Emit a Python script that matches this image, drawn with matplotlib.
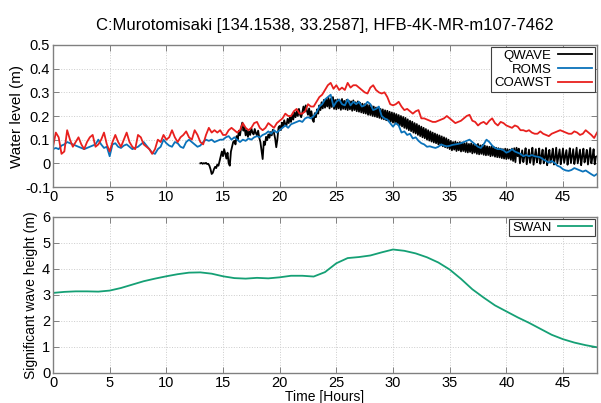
import numpy as np
import matplotlib
matplotlib.use('Agg')
import matplotlib.pyplot as plt
from matplotlib.ticker import FuncFormatter

plt.rcParams['font.family'] = ['Liberation Sans', 'DejaVu Sans']

title = 'C:Murotomisaki [134.1538, 33.2587], HFB-4K-MR-m107-7462'

# water level, 15 min steps, 0-48 h
roms = [
    0.060, 0.065, 0.060, 0.075,  0.080, 0.090, 0.085, 0.080,  0.075, 0.070, 0.065, 0.060,
    0.065, 0.070, 0.075, 0.080,  0.100, 0.080, 0.065, 0.070,  0.030, 0.080, 0.085, 0.070,
    0.065, 0.075, 0.080, 0.070,  0.060, 0.065, 0.070, 0.080,  0.090, 0.075, 0.060, 0.045,
    0.040, 0.060, 0.070, 0.100,  0.085, 0.075, 0.070, 0.090,  0.085, 0.070, 0.065, 0.090,
    0.100, 0.090, 0.080, 0.070,  0.075, 0.090, 0.100, 0.095,  0.100, 0.090, 0.095, 0.100,
    0.100, 0.110, 0.115, 0.100,  0.110, 0.100, 0.090, 0.100,  0.095, 0.105, 0.100, 0.110,
    0.115, 0.110, 0.120, 0.125,  0.135, 0.125, 0.140, 0.130,  0.140, 0.150, 0.160, 0.150,
    0.165, 0.170, 0.175, 0.180,  0.175, 0.190, 0.195, 0.190,  0.200, 0.215, 0.240, 0.250,
    0.270, 0.280, 0.290, 0.240,  0.260, 0.270, 0.250, 0.245,  0.270, 0.245, 0.260, 0.250,
    0.260, 0.240, 0.245, 0.260,  0.250, 0.225, 0.230, 0.240,  0.200, 0.190, 0.185, 0.170,
    0.155, 0.170, 0.160, 0.130,  0.135, 0.120, 0.125, 0.105,  0.110, 0.095, 0.085, 0.080,
    0.070, 0.072, 0.068, 0.065,  0.070, 0.080, 0.075, 0.072,  0.074, 0.078, 0.080, 0.082,
    0.085, 0.090, 0.095, 0.100,  0.090, 0.080, 0.070, 0.065,  0.080, 0.100, 0.090, 0.075,
    0.065, 0.060, 0.060, 0.055,  0.045, 0.050, 0.060, 0.050,  0.045, 0.040, 0.030, 0.035,
    0.030, 0.035, 0.030, 0.028,  0.025, 0.017, 0.010, 0.003,  0.010, 0.002, -0.010, -0.015,
    -0.025, -0.030, -0.032, -0.028,  -0.020, -0.025, -0.030, -0.035,  -0.030, -0.038, -0.046, -0.053,
    -0.045,
]

coawst = [
    0.070, 0.130, 0.110, 0.040,  0.050, 0.140, 0.100, 0.070,  0.090, 0.110, 0.080, 0.060,
    0.090, 0.110, 0.120, 0.070,  0.080, 0.100, 0.130, 0.080,  0.050, 0.090, 0.120, 0.090,
    0.070, 0.100, 0.130, 0.090,  0.070, 0.060, 0.120, 0.110,  0.080, 0.070, 0.060, 0.040,
    0.060, 0.100, 0.090, 0.120,  0.100, 0.110, 0.140, 0.110,  0.090, 0.110, 0.120, 0.135,
    0.110, 0.100, 0.140, 0.120,  0.090, 0.080, 0.120, 0.150,  0.130, 0.140, 0.130, 0.140,
    0.120, 0.120, 0.140, 0.150,  0.140, 0.130, 0.140, 0.170,  0.150, 0.140, 0.150, 0.170,
    0.175, 0.150, 0.140, 0.150,  0.170, 0.160, 0.150, 0.170,  0.180, 0.190, 0.210, 0.200,
    0.200, 0.220, 0.230, 0.210,  0.210, 0.220, 0.250, 0.240,  0.240, 0.260, 0.280, 0.290,
    0.310, 0.330, 0.340, 0.315,  0.330, 0.310, 0.320, 0.310,  0.340, 0.320, 0.330, 0.330,
    0.320, 0.310, 0.300, 0.295,  0.320, 0.330, 0.310, 0.300,  0.295, 0.300, 0.280, 0.250,
    0.245, 0.250, 0.260, 0.240,  0.225, 0.230, 0.220, 0.210,  0.220, 0.225, 0.190, 0.190,
    0.185, 0.180, 0.175, 0.175,  0.180, 0.185, 0.190, 0.200,  0.190, 0.180, 0.170, 0.175,
    0.180, 0.190, 0.200, 0.205,  0.180, 0.175, 0.160, 0.170,  0.175, 0.165, 0.180, 0.190,
    0.170, 0.160, 0.175, 0.170,  0.160, 0.155, 0.150, 0.160,  0.155, 0.140, 0.140, 0.135,
    0.140, 0.130, 0.125, 0.125,  0.135, 0.125, 0.120, 0.115,  0.125, 0.130, 0.135, 0.140,
    0.135, 0.130, 0.125, 0.125,  0.135, 0.130, 0.120, 0.125,  0.140, 0.130, 0.120, 0.107,
    0.130,
]

# QWAVE, 6 min steps from 13 h to 48 h (one row per hour)
qwave = [
    0.000, 0.002, -0.002, 0.001, -0.001, 0.002, -0.003, -0.002, -0.010, -0.025,
    -0.045, -0.040, -0.025, -0.015, -0.020, -0.005, -0.010, 0.010, 0.030, 0.050,
    0.030, 0.060, 0.040, 0.020, 0.045, 0.000, -0.010, 0.050, 0.070, 0.090,
    0.095, 0.080, 0.115, 0.100, 0.138, 0.118, 0.150, 0.172, 0.138, 0.152,
    0.118, 0.140, 0.112, 0.135, 0.120, 0.148, 0.130, 0.122, 0.145, 0.128,
    0.118, 0.138, 0.108, 0.090, 0.055, 0.018, 0.092, 0.078, 0.112, 0.098,
    0.122, 0.108, 0.132, 0.118, 0.142, 0.128, 0.105, 0.068, 0.102, 0.152,
    0.158, 0.140, 0.172, 0.155, 0.182, 0.165, 0.160, 0.188, 0.170, 0.195,
    0.175, 0.205, 0.185, 0.215, 0.195, 0.220, 0.200, 0.230, 0.205, 0.195,
    0.215, 0.240, 0.218, 0.245, 0.222, 0.205, 0.232, 0.198, 0.220, 0.185,
    0.175, 0.212, 0.195, 0.228, 0.210, 0.245, 0.225, 0.258, 0.232, 0.268,
    0.235, 0.270, 0.240, 0.278, 0.232, 0.272, 0.238, 0.280, 0.230, 0.268,
    0.228, 0.270, 0.232, 0.266, 0.226, 0.272, 0.230, 0.264, 0.228, 0.268,
    0.225, 0.265, 0.228, 0.262, 0.222, 0.266, 0.225, 0.258, 0.220, 0.262,
    0.218, 0.256, 0.215, 0.252, 0.212, 0.250, 0.210, 0.248, 0.205, 0.246,
    0.204, 0.244, 0.200, 0.240, 0.198, 0.236, 0.195, 0.234, 0.192, 0.230,
    0.188, 0.228, 0.186, 0.224, 0.182, 0.222, 0.180, 0.218, 0.176, 0.215,
    0.172, 0.212, 0.170, 0.208, 0.165, 0.204, 0.160, 0.200, 0.156, 0.196,
    0.150, 0.192, 0.146, 0.186, 0.140, 0.180, 0.136, 0.176, 0.130, 0.170,
    0.126, 0.166, 0.120, 0.160, 0.115, 0.155, 0.110, 0.150, 0.106, 0.145,
    0.100, 0.140, 0.096, 0.135, 0.092, 0.130, 0.088, 0.126, 0.085, 0.122,
    0.080, 0.118, 0.076, 0.114, 0.072, 0.110, 0.068, 0.106, 0.065, 0.100,
    0.060, 0.095, 0.055, 0.090, 0.058, 0.092, 0.052, 0.088, 0.055, 0.090,
    0.050, 0.088, 0.052, 0.085, 0.048, 0.086, 0.046, 0.082, 0.048, 0.084,
    0.042, 0.080, 0.045, 0.078, 0.040, 0.082, 0.038, 0.076, 0.040, 0.078,
    0.036, 0.075, 0.034, 0.072, 0.035, 0.070, 0.030, 0.072, 0.032, 0.068,
    0.028, 0.066, 0.026, 0.064, 0.025, 0.062, 0.022, 0.060, 0.020, 0.062,
    0.018, 0.060, 0.020, 0.058, 0.015, 0.062, 0.010, 0.064, 0.005, 0.066,
    0.030, 0.062, 0.000, 0.028, 0.055, 0.005, 0.032, 0.064, -0.004, 0.026,
    0.058, 0.002, 0.030, 0.066, -0.006, 0.028, 0.060, 0.004, 0.025, 0.063,
    -0.002, 0.030, 0.058, 0.000, 0.027, 0.065, -0.008, 0.030, 0.057, 0.003,
    0.028, 0.062, -0.005, 0.025, 0.066, 0.000, 0.030, 0.059, -0.004, 0.026,
    0.063, 0.002, 0.029, 0.056, -0.006, 0.027, 0.064, 0.001, 0.030, 0.060,
    -0.003, 0.025, 0.066, 0.000, 0.028, 0.058, -0.008, 0.030, 0.062, 0.004,
    0.027, 0.057, -0.005, 0.029, 0.065, 0.000, 0.026, 0.060, -0.004, 0.028,
    0.030,
]

# significant wave height, hourly
swan = [
    3.08, 3.12, 3.14, 3.14, 3.13, 3.17, 3.27, 3.40, 3.53, 3.63,
    3.72, 3.80, 3.86, 3.87, 3.82, 3.72, 3.65, 3.63, 3.66, 3.64,
    3.68, 3.74, 3.74, 3.71, 3.88, 4.22, 4.42, 4.46, 4.52, 4.64,
    4.75, 4.70, 4.60, 4.45, 4.25, 3.98, 3.62, 3.22, 2.90, 2.60,
    2.37, 2.14, 1.93, 1.70, 1.47, 1.30, 1.17, 1.07, 0.99,
]

t_model = np.arange(len(roms)) * 0.25
t_qwave = 13.0 + np.arange(len(qwave)) * 0.1
t_swan = np.arange(len(swan)) * 1.0

fig = plt.figure(figsize=(6.01, 4.03), dpi=100)
ax1 = fig.add_axes([53 / 601, 1 - 187 / 403, 544 / 601, 142 / 403])
ax2 = fig.add_axes([53 / 601, 1 - 373 / 403, 544 / 601, 156 / 403])

fmt = FuncFormatter(lambda v, p: f'{v:g}')
for ax in (ax1, ax2):
    ax.set_xlim(0, 48)
    ax.set_xticks(range(0, 50, 5))
    ax.grid(True, color='#cccccc', linestyle=':', linewidth=0.7)
    ax.tick_params(direction='in', top=True, right=True, length=4,
                   width=0.7, color='#808080', labelsize=10.5, pad=2)
    for s in ax.spines.values():
        s.set_color('#808080')
        s.set_linewidth(1.0)
    ax.yaxis.set_major_formatter(fmt)

ax1.plot(t_qwave, qwave, color='black', lw=1.3, label='QWAVE')
ax1.plot(t_model, roms, color='#0a72ba', lw=1.3, label='ROMS')
ax1.plot(t_model, coawst, color='#e8201e', lw=1.3, label='COAWST')
ax1.set_ylim(-0.1, 0.5)
ax1.set_yticks(np.arange(-0.1, 0.51, 0.1))
ax1.set_ylabel('Water level (m)', fontsize=11, labelpad=1)
ax1.set_title(title, fontsize=12, pad=11)

ax2.plot(t_swan, swan, color='#15a075', lw=1.3, label='SWAN')
ax2.set_ylim(0, 6)
ax2.set_yticks(range(0, 7))
ax2.set_ylabel('Significant wave height (m)', fontsize=10, labelpad=3)
ax2.set_xlabel('Time [Hours]', fontsize=10, labelpad=0)

for ax in (ax1, ax2):
    leg = ax.legend(loc='upper right', markerfirst=False, fancybox=False,
                    edgecolor='#404040', framealpha=1, fontsize=9.5,
                    handlelength=2.6, labelspacing=0.12, borderaxespad=0.15,
                    borderpad=0.2, handletextpad=0.5)
    leg.get_frame().set_linewidth(0.8)

fig.savefig('out.png', dpi=100)
